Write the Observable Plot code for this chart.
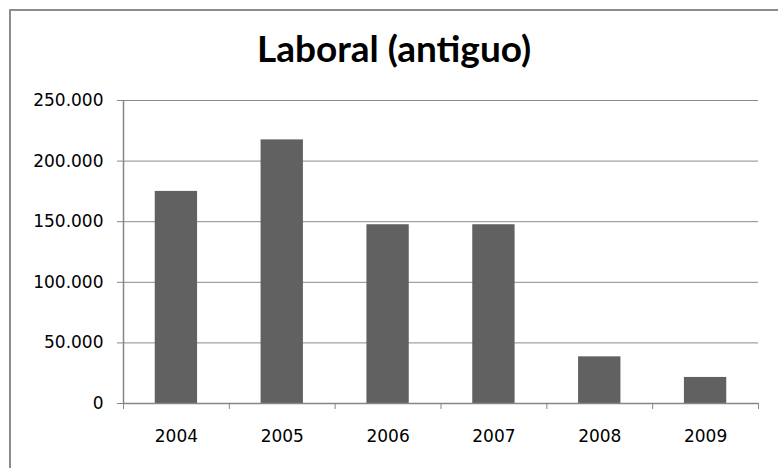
<!DOCTYPE html>
<html>
<head>
<meta charset="utf-8">
<script src="https://cdn.jsdelivr.net/npm/d3@7"></script>
<script src="https://cdn.jsdelivr.net/npm/@observablehq/plot@0.6"></script>
<style>
  html, body { margin: 0; padding: 0; background: #fff; overflow: hidden; }
  #wrap { position: relative; width: 778px; height: 468px; overflow: hidden; }
  #border { position: absolute; left: 9px; top: 9px; width: 769px; height: 459px;
            border-left: 2px solid #8c8c8c; border-top: 2px solid #8c8c8c; box-sizing: border-box; }
  #title { position: absolute; left: 0; width: 788px; top: 29px; text-align: center;
           font-family: Lato, "Open Sans", sans-serif; font-weight: bold; font-size: 37px; color: #000; line-height: 1; }
  #chart { position: absolute; left: 0; top: 0; }
</style>
</head>
<body>
<div id="wrap">
  <div id="border"></div>
  <div id="title">Laboral (antiguo)</div>
  <div id="chart"></div>
</div>
<script>
const years = [2004, 2005, 2006, 2007, 2008, 2009];
const values = [175000, 217500, 147500, 147500, 38500, 21500];
const yTicks = [0, 50000, 100000, 150000, 200000, 250000];
const bandEdges = [2003.5, 2004.5, 2005.5, 2006.5, 2007.5, 2008.5, 2009.5];

const data = years.map((y, i) => ({year: y, value: values[i]}));
const fmt = d => d3.format(",")(d).replace(/,/g, ".");
const half = 0.2;

const plot = Plot.plot({
  width: 778,
  height: 468,
  marginLeft: 123,
  marginRight: 20,
  marginTop: 100,
  marginBottom: 65,
  style: {fontFamily: "'DejaVu Sans', sans-serif", fontSize: "17px", color: "#000", background: "transparent"},
  x: {type: "linear", domain: [2003.5, 2009.5]},
  y: {domain: [0, 250000]},
  marks: [
    Plot.ruleY(yTicks.slice(1), {stroke: "#8a8a8a", strokeWidth: 1}),
    Plot.rectY(data, {x1: d => d.year - half, x2: d => d.year + half, y: "value", fill: "#616161"}),
    Plot.ruleY([0], {stroke: "#868686", strokeWidth: 1.5}),
    Plot.ruleX([2003.5], {y1: 0, y2: 250000, stroke: "#868686", strokeWidth: 1.5}),
    Plot.axisY({ticks: yTicks, tickFormat: fmt, tickSize: 6, tickPadding: 14, stroke: "#868686", fill: "#000", label: null}),
    Plot.axisX({ticks: bandEdges, tickFormat: () => "", tickSize: 6, stroke: "#868686", label: null}),
    Plot.axisX({ticks: years, tickFormat: d => String(d), tickSize: 0, tickPadding: 26, fill: "#000", label: null})
  ]
});
document.getElementById("chart").appendChild(plot);
</script>
</body>
</html>
